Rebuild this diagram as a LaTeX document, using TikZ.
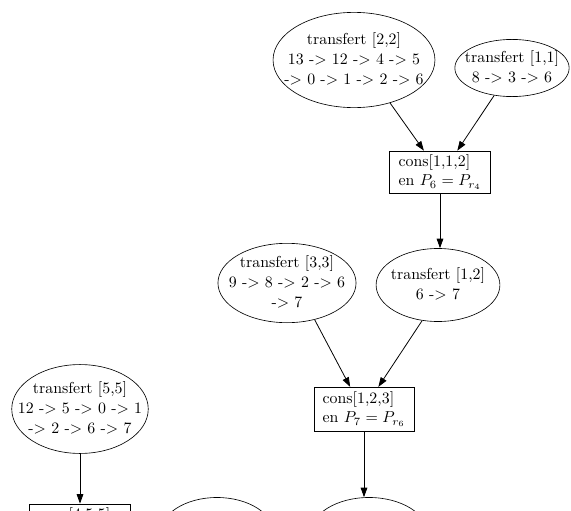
\documentclass[tikz,border=0pt]{standalone}
\usetikzlibrary{shapes.geometric,arrows.meta}
\newcommand\eltext[1]{\raisebox{-2.6pt}[0pt][0pt]{\makebox[0pt]{\begin{tabular}{@{}c@{}}#1\end{tabular}}}}
\begin{document}
\begin{tikzpicture}[x=0.63pt,y=-0.63pt,
  ell/.style={draw,ellipse,inner sep=0pt,font=\fontsize{10}{12.6}\selectfont},
  box/.style={draw,rectangle,inner sep=0pt,align=left,font=\fontsize{10}{12.4}\selectfont},
  arr/.style={-{Triangle[length=6pt,width=4.2pt]},line width=0.5pt}]
\useasboundingbox (0,0) rectangle (571,511);
\clip (0,0) rectangle (571,511);
\node[ell,minimum width=102pt,minimum height=60pt] (t22) at (354,60) {\eltext{transfert [2,2]\\13 -> 12 -> 4 -> 5\\-> 0 -> 1 -> 2 -> 6}};
\node[ell,minimum width=72pt,minimum height=36pt] (t11) at (512,68) {\eltext{transfert [1,1]\\8 -> 3 -> 6}};
\node[box,minimum width=64pt,minimum height=26.5pt] (c112) at (440,172) {cons[1,1,2]\\en $P_6 = P_{r_4}$};
\node[ell,minimum width=78pt,minimum height=46pt] (t12) at (438,285) {\eltext{transfert [1,2]\\6 -> 7}};
\node[ell,minimum width=87pt,minimum height=50pt] (t33) at (287,283) {\eltext{transfert [3,3]\\9 -> 8 -> 2 -> 6\\-> 7}};
\node[box,minimum width=63pt,minimum height=27.5pt] (c123) at (364,409) {cons[1,2,3]\\en $P_7 = P_{r_6}$};
\node[ell,minimum width=86pt,minimum height=56pt] (t55) at (80,409) {\eltext{transfert [5,5]\\12 -> 5 -> 0 -> 1\\-> 2 -> 6 -> 7}};
\node[box,minimum width=64pt,minimum height=26.5pt] (c555) at (80,525) {cons[4,5,5]\\en $P_7 = P_{r_5}$};
\node[ell,minimum width=72pt,minimum height=46pt] (t44) at (217,534) {\eltext{transfert [4,4]\\4 -> 7}};
\node[ell,minimum width=74pt,minimum height=46pt] (t13) at (369,534) {\eltext{transfert [1,3]\\7 -> 8}};
\draw[arr] (t22.-50) -- (c112.127);
\draw[arr] (t11.-123) -- (c112.51);
\draw[arr] (c112.south) -- (c112.south |- t12.north);
\draw[arr] (t33.-53) -- (c123.122);
\draw[arr] (t12.-114) -- (c123.57);
\draw[arr] (c123.south) -- (c123.south |- t13.north);
\draw[arr] (t55.south) -- (c555.north);
\end{tikzpicture}
\end{document}
